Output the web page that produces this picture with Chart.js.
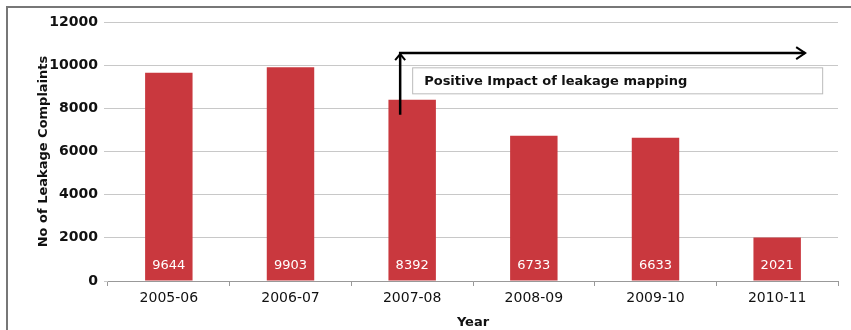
<!DOCTYPE html>
<html>
<head>
<meta charset="utf-8">
<script src="https://cdn.jsdelivr.net/npm/chart.js@4/dist/chart.umd.min.js"></script>
<style>
    html, body { margin: 0; padding: 0; background: #fff; }
    #wrap { position: relative; width: 851px; height: 330px; }
    #frame {
        position: absolute; left: 6px; top: 6px; right: -2px; bottom: -2px;
        border-left: 2px solid #777; border-top: 2px solid #777;
    }
    canvas { position: absolute; left: 0; top: 0; }
</style>
</head>
<body>
<div id="wrap">
    <div id="frame"></div>
    <canvas id="chart-quejas" width="851" height="330"></canvas>
</div>
<script>
// datos
const YEARS = ["2005-06", "2006-07", "2007-08", "2008-09", "2009-10", "2010-11"];
const COMPLAINTS = [9644, 9903, 8392, 6733, 6633, 2021];
const Y_TICKS = [0, 2000, 4000, 6000, 8000, 10000, 12000];
const NOTE = "Positive Impact of leakage mapping";

const BAR_COLOR = "#C9383E";
const FONT = "'DejaVu Sans', sans-serif";

// etiquetas blancas dentro de cada barra
const etiquetasBarras = {
    id: "etiquetasBarras",
    afterDatasetsDraw(chart) {
        const ctx = chart.ctx;
        const meta = chart.getDatasetMeta(0);
        const y0 = chart.scales.y.getPixelForValue(0);
        ctx.save();
        ctx.fillStyle = "#fff";
        ctx.font = "13px " + FONT;
        ctx.textAlign = "center";
        ctx.textBaseline = "middle";
        meta.data.forEach((bar, i) => {
            ctx.fillText(String(COMPLAINTS[i]), bar.x, y0 - 15);
        });
        ctx.restore();
    },
};

// flecha y recuadro de anotacion
const anotacion = {
    id: "anotacion",
    afterDraw(chart) {
        const ctx = chart.ctx;
        const x = chart.scales.x;
        const y = chart.scales.y;
        const ax = x.getPixelForValue(2) - 12;
        const yBottom = y.getPixelForValue(7700);
        const yTop = y.getPixelForValue(10560);
        const xEnd = x.getPixelForValue(5) + 28;

        ctx.save();
        ctx.strokeStyle = "#000";
        ctx.lineWidth = 2.5;
        ctx.beginPath();
        ctx.moveTo(ax, yBottom);
        ctx.lineTo(ax, yTop);
        ctx.lineTo(xEnd, yTop);
        ctx.stroke();
        // punta arriba
        ctx.lineWidth = 2;
        ctx.beginPath();
        ctx.moveTo(ax - 5, yTop + 7);
        ctx.lineTo(ax, yTop + 1);
        ctx.lineTo(ax + 5, yTop + 7);
        ctx.stroke();
        // punta derecha
        ctx.beginPath();
        ctx.moveTo(xEnd - 9, yTop - 6);
        ctx.lineTo(xEnd, yTop);
        ctx.lineTo(xEnd - 9, yTop + 6);
        ctx.stroke();

        // recuadro
        const bx = ax + 12;
        const by = y.getPixelForValue(9900);
        const bw = x.getPixelForValue(5) + 45 - bx;
        const bh = 26;
        ctx.fillStyle = "#fff";
        ctx.fillRect(bx, by, bw, bh);
        ctx.strokeStyle = "#bbb";
        ctx.lineWidth = 1;
        ctx.strokeRect(bx + 0.5, by + 0.5, bw, bh);
        ctx.fillStyle = "#111";
        ctx.font = "bold 13px " + FONT;
        ctx.textAlign = "left";
        ctx.textBaseline = "middle";
        ctx.fillText(NOTE, bx + 12, by + bh / 2 + 1);
        ctx.restore();
    },
};

const ctx = document.getElementById("chart-quejas").getContext("2d");
const chartQuejas = new Chart(ctx, {
    type: "bar",
    data: {
        labels: YEARS,
        datasets: [{
            label: "Complaints",
            data: COMPLAINTS,
            backgroundColor: BAR_COLOR,
            borderWidth: 0,
            categoryPercentage: 1,
            barPercentage: 0.39,
        }],
    },
    options: {
        responsive: false,
        animation: false,
        layout: { padding: { left: 36, right: 13, top: 22, bottom: 0 } },
        plugins: {
            legend: { display: false },
            tooltip: { enabled: false },
        },
        scales: {
            x: {
                grid: {
                    drawOnChartArea: false,
                    tickLength: 5,
                    color: "#999",
                    offset: true,
                },
                border: { color: "#999", width: 1 },
                ticks: { color: "#111", font: { family: FONT, size: 14 }, padding: 4 },
                title: {
                    display: true,
                    text: "Year",
                    color: "#111",
                    font: { family: FONT, size: 13, weight: "bold" },
                    padding: { top: 0, bottom: 0 },
                },
                afterFit: (s) => { s.height = 49; },
            },
            y: {
                min: 0,
                max: 12000,
                afterBuildTicks: (s) => { s.ticks = Y_TICKS.map((v) => ({ value: v })); },
                grid: { color: "#c8c8c8", tickLength: 4 },
                border: { display: false },
                ticks: {
                    color: "#111",
                    font: { family: FONT, size: 14, weight: "bold" },
                    padding: 6,
                    callback: (v) => String(v),
                },
                title: {
                    display: true,
                    text: "No of Leakage Complaints",
                    color: "#111",
                    font: { family: FONT, size: 13, weight: "bold" },
                    padding: { top: 0, bottom: 0 },
                },
                afterFit: (s) => { s.width = 72; },
            },
        },
    },
    plugins: [etiquetasBarras, anotacion],
});
</script>
</body>
</html>
